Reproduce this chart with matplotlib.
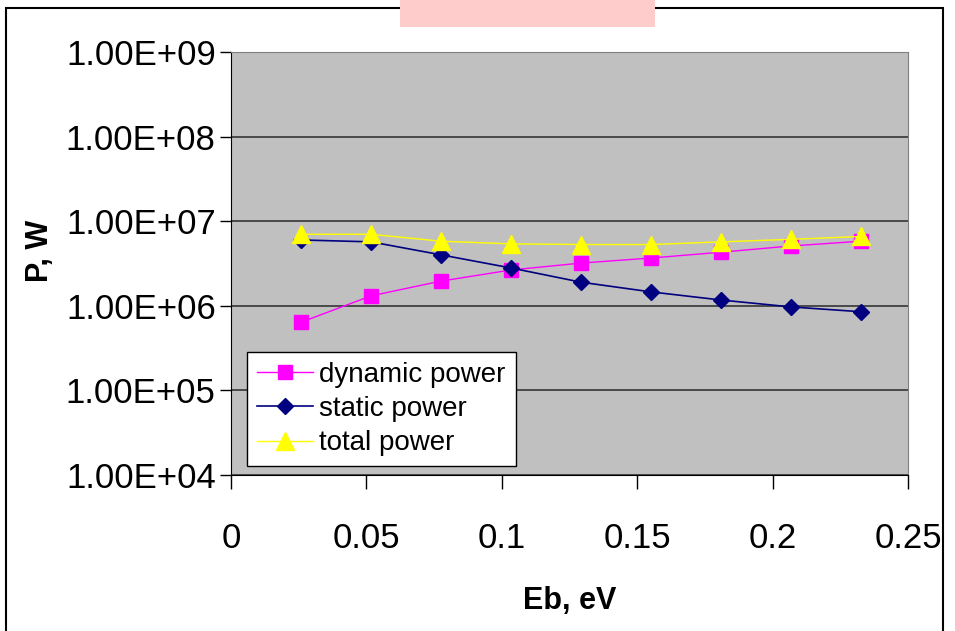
import numpy as np
import matplotlib
matplotlib.use('Agg')
import matplotlib.pyplot as plt
from matplotlib.ticker import FuncFormatter, FixedLocator, NullLocator
from matplotlib.patches import Rectangle

plt.rcParams['font.family'] = ['Liberation Sans', 'DejaVu Sans']

# data
eb = [0.0259, 0.0517, 0.0776, 0.1034, 0.1293, 0.1551, 0.1810, 0.2068, 0.2327]
dynamic_power = [6.4e5, 1.31e6, 1.96e6, 2.65e6, 3.2e6, 3.67e6, 4.3e6, 5.1e6, 5.8e6]
static_power = [6.0e6, 5.7e6, 4.0e6, 2.8e6, 1.9e6, 1.46e6, 1.17e6, 9.7e5, 8.5e5]
total_power = [7.0e6, 7.0e6, 5.8e6, 5.4e6, 5.3e6, 5.3e6, 5.7e6, 6.1e6, 6.6e6]
y_ticks = [1e4, 1e5, 1e6, 1e7, 1e8, 1e9]
x_ticks = [0, 0.05, 0.1, 0.15, 0.2, 0.25]

fig = plt.figure(figsize=(9.55, 6.31), dpi=100)

# outer chart border and the pink box at the top
fig.patches.append(Rectangle((6/955, -0.05), 937/955, 1.05 - 8/631, transform=fig.transFigure,
                             fill=False, edgecolor='black', linewidth=1.5, zorder=0))
fig.patches.append(Rectangle((400/955, 1 - 27/631), 255/955, 27/631, transform=fig.transFigure,
                             facecolor='#ffcccc', edgecolor='none', zorder=1))

ax = fig.add_axes([231/955, 1 - 475/631, 677/955, 423/631])
ax.set_facecolor('#c0c0c0')

ax.plot(eb, dynamic_power, color='#ff00ff', linewidth=1, marker='s', markersize=10,
        markerfacecolor='#ff00ff', markeredgecolor='#ff00ff', label='dynamic power', zorder=3)
ax.plot(eb, static_power, color='#000080', linewidth=1.2, marker='D', markersize=8,
        markerfacecolor='#000080', markeredgecolor='#000080', label='static power', zorder=4)
ax.plot(eb, total_power, color='#ffff00', linewidth=1, marker='^', markersize=13,
        markerfacecolor='#ffff00', markeredgecolor='#ffff00', label='total power', zorder=5)

ax.set_yscale('log')
ax.set_ylim(1e4, 1e9)
ax.set_xlim(0, 0.25)
ax.yaxis.set_major_locator(FixedLocator(y_ticks))
ax.yaxis.set_minor_locator(NullLocator())
ax.yaxis.set_major_formatter(FuncFormatter(lambda v, p: '1.00E+%02d' % int(round(np.log10(v)))))
ax.set_xticks(x_ticks)
ax.set_xticklabels(['0', '0.05', '0.1', '0.15', '0.2', '0.25'])

ax.grid(True, axis='y', color='#404040', linewidth=1.3)
ax.set_axisbelow(True)

for s in ['top', 'right']:
    ax.spines[s].set_color('#808080')
ax.spines['left'].set_color('black')
ax.spines['bottom'].set_color('black')

ax.tick_params(axis='y', direction='out', length=8, width=1, labelsize=25, pad=3)
ax.tick_params(axis='x', direction='out', length=10, width=1, labelsize=25, pad=24)

ax.set_xlabel('Eb, eV', fontsize=22, fontweight='bold', labelpad=22)
ax.set_ylabel('P, W', fontsize=22, fontweight='bold')
ax.yaxis.set_label_coords(-0.26, 0.53)

leg = ax.legend(loc='lower left', bbox_to_anchor=(0.024, 0.021), borderaxespad=0,
                fontsize=20, fancybox=False, framealpha=1, edgecolor='black',
                handlelength=2.0, handletextpad=0.25, labelspacing=0.3, borderpad=0.35)
leg.get_frame().set_linewidth(1)

fig.savefig('out.png', dpi=100)
